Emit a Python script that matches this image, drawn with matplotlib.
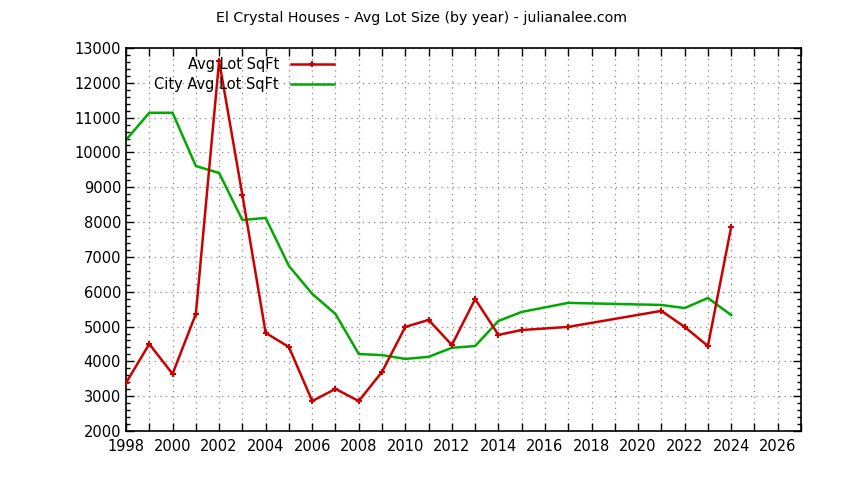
import matplotlib
matplotlib.use("Agg")
import matplotlib.pyplot as plt
from matplotlib.ticker import MultipleLocator

years_red = [1998, 1999, 2000, 2001, 2002, 2003, 2004, 2005, 2006, 2007, 2008, 2009,
             2010, 2011, 2012, 2013, 2014, 2015, 2017, 2021, 2022, 2023, 2024]
avg_lot = [3380, 4500, 3640, 5360, 12630, 8780, 4820, 4410, 2860, 3210, 2860, 3700,
           4990, 5190, 4470, 5790, 4760, 4900, 4990, 5450, 4990, 4440, 7860]
years_green = years_red
city_avg = [10360, 11140, 11140, 9610, 9410, 8060, 8120, 6740, 5940, 5360, 4210, 4180,
            4070, 4130, 4390, 4440, 5160, 5420, 5680, 5620, 5530, 5820, 5330]

title = "El Crystal Houses - Avg Lot Size (by year) - julianalee.com"

plt.rcParams['font.family'] = ['DejaVu Sans']
fig = plt.figure(figsize=(8.44, 4.8), dpi=100)
ax = fig.add_axes([126/844, 1 - 431/480, (801-126)/844, (431-48)/480])

ax.plot(years_red, avg_lot, color='#cc0000', lw=1.8, marker='+', ms=4.5, mew=1.5,
        label='Avg Lot SqFt', zorder=3)
ax.plot(years_green, city_avg, color='#00aa00', lw=1.8, label='City Avg Lot SqFt', zorder=2)

ax.set_xlim(1998, 2027)
ax.set_ylim(2000, 13000)
ax.xaxis.set_major_locator(MultipleLocator(2))
ax.xaxis.set_minor_locator(MultipleLocator(1))
ax.yaxis.set_major_locator(MultipleLocator(1000))
ax.yaxis.set_minor_locator(MultipleLocator(200))

ax.grid(True, which='major', axis='both', color='#888888', ls=(0, (1, 3.5)), lw=0.9)
ax.grid(True, which='minor', axis='x', color='#888888', ls=(0, (1, 3.5)), lw=0.9)

ax.tick_params(which='both', direction='in', top=True, right=True, labelsize=10.5,
               colors='black', width=1)
ax.tick_params(which='major', length=6)
ax.tick_params(which='minor', length=3)
ax.tick_params(axis='x', which='minor', length=6)
ax.tick_params(axis='x', pad=6)
for s in ax.spines.values():
    s.set_linewidth(1.2)

fig.text(0.5, 1 - 18/480, title, fontsize=10.2, ha='center', va='center')

leg = ax.legend(loc='upper right', bbox_to_anchor=(0.328, 1.01), frameon=False,
                markerfirst=False, fontsize=10.5, handlelength=3.0,
                handletextpad=0.8, labelspacing=0.3)
for t in leg.get_texts():
    t.set_ha('right')
leg._legend_box.align = 'right'

fig.savefig('out.png', dpi=100)
